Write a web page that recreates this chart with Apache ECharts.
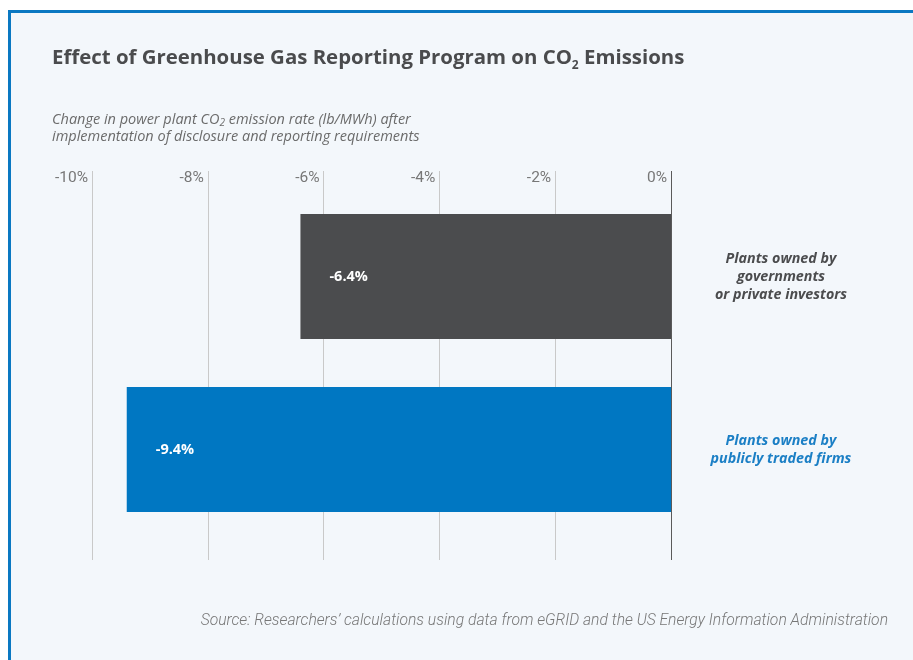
<!DOCTYPE html>
<html>
<head>
<meta charset="utf-8">
<script src="https://cdn.jsdelivr.net/npm/echarts@6/dist/echarts.min.js"></script>
<style>
  html, body { margin: 0; padding: 0; background: #ffffff; width: 913px; height: 660px; overflow: hidden; }
  #frame { position: absolute; left: 8px; top: 10px; width: 920px; height: 660px; background: #f3f7fb; border-left: 3px solid #0a78c2; border-top: 3px solid #0a78c2; }
  #chart { position: absolute; left: 0; top: 0; width: 913px; height: 660px; }
</style>
</head>
<body>
<div id="frame"></div>
<div id="chart"></div>
<script>
// ---- data ----
const categories = ['Plants owned by\ngovernments\nor private investors', 'Plants owned by\npublicly traded firms'];
const values = [-6.4, -9.4];
const barColors = ['#4b4c4e', '#0077c2'];
const labelColors = ['#4b4c4e', '#1b7fc5'];
const axisMin = -10, axisMax = 0, axisStep = 2;

const FT = '"Open Sans", Lato, sans-serif';
const FR = 'Roboto, "Open Sans", sans-serif';
const chart = echarts.init(document.getElementById('chart'), null, { renderer: 'canvas' });

const option = {
  backgroundColor: 'transparent',
  animation: false,
  title: [
    {
      left: 52, top: 44, padding: 0,
      text: '{m|Effect of Greenhouse Gas Reporting Program on CO}{s|2}{m| Emissions}',
      textStyle: {
        rich: {
          m: { fontFamily: FT, fontWeight: 'bold', fontSize: 20.4, lineHeight: 28, color: '#4a4b4d' },
          s: { fontFamily: FT, fontWeight: 'bold', fontSize: 12, lineHeight: 14, padding: [14, 0, 0, 0], color: '#4a4b4d', verticalAlign: 'bottom' }
        }
      }
    },
    {
      left: 52, top: 111, padding: 0,
      text: '{m|Change in power plant CO}{s|2}{m| emission rate (lb/MWh) after}\n{m|implementation of disclosure and reporting requirements}',
      textStyle: {
        rich: {
          m: { fontFamily: FT, fontStyle: 'italic', fontWeight: 'normal', fontSize: 14.5, lineHeight: 17, color: '#6b6b6b' },
          s: { fontFamily: FT, fontStyle: 'italic', fontWeight: 'normal', fontSize: 10, lineHeight: 10, padding: [9, 0, 0, 0], color: '#6b6b6b', verticalAlign: 'bottom' }
        }
      }
    },
    {
      right: 25, top: 613, padding: 0,
      text: 'Source: Researchers\u2019 calculations using data from eGRID and the US Energy Information Administration',
      textStyle: { fontFamily: FR, fontStyle: 'italic', fontWeight: 300, fontSize: 15.7, color: '#777777' }
    }
  ],
  grid: [
    { left: 92, right: 242, top: 171, bottom: 100 },
    { left: 92, right: 242, top: 190, bottom: 124 }
  ],
  xAxis: [
    {
      gridIndex: 0, type: 'value', position: 'top', min: axisMin, max: axisMax, interval: axisStep,
      axisLine: { show: false }, axisTick: { show: false },
      axisLabel: {
        formatter: '{value}%', align: 'right', verticalAlign: 'middle', margin: -7,
        padding: [0, 4, 0, 0], fontFamily: FR, fontWeight: 'normal', fontSize: 15.5, color: '#777777'
      },
      splitLine: { show: true, showMinLine: true, showMaxLine: true,
        lineStyle: { width: 1, color: ['#c9c9c9', '#c9c9c9', '#c9c9c9', '#c9c9c9', '#c9c9c9', '#5a5a5a'] } }
    },
    {
      gridIndex: 1, type: 'value', min: axisMin, max: axisMax, interval: axisStep,
      show: false
    }
  ],
  yAxis: [
    { gridIndex: 0, type: 'value', show: false, min: 0, max: 1 },
    {
      gridIndex: 1, type: 'category', position: 'right', inverse: true,
      data: categories.map((c, i) => ({ value: c, textStyle: { color: labelColors[i], align: 'center' } })),
      axisLine: { show: false }, axisTick: { show: false }, splitLine: { show: false },
      axisLabel: {
        align: 'center', margin: 110, fontFamily: FT, fontStyle: 'italic', fontWeight: 'bold',
        fontSize: 14.3, lineHeight: 18
      }
    }
  ],
  series: [
    {
      type: 'bar', xAxisIndex: 1, yAxisIndex: 1, barWidth: 125,
      data: values.map((v, i) => ({ value: v, itemStyle: { color: barColors[i] } })),
      label: {
        show: true, position: 'insideLeft', distance: 29,
        formatter: p => p.value + '%',
        color: '#ffffff', fontFamily: FT, fontWeight: 'bold', fontSize: 14.5
      }
    }
  ]
};
chart.setOption(option);
</script>
</body>
</html>
